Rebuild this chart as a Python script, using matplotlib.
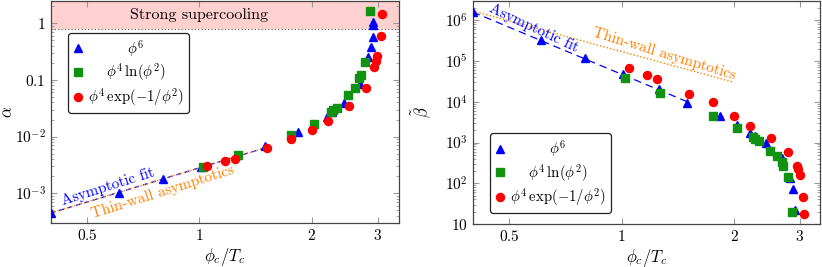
import numpy as np
import matplotlib
matplotlib.use("Agg")
import matplotlib.pyplot as plt
from matplotlib.ticker import FixedLocator, FixedFormatter, LogLocator, NullLocator, NullFormatter

plt.rcParams['font.family'] = ['cmr10', 'DejaVu Serif']
plt.rcParams['mathtext.fontset'] = 'cm'
plt.rcParams['axes.formatter.use_mathtext'] = True
plt.rcParams['axes.unicode_minus'] = False

# ---------------- data ----------------
phi6_x = [0.40, 0.61, 0.80, 1.01, 1.26, 1.50, 1.83, 2.03, 2.20, 2.27, 2.43, 2.69, 2.83, 2.88, 2.905, 2.91, 2.915]
phi6_alpha = [4.5e-4, 1.03e-3, 1.77e-3, 2.86e-3, 4.7e-3, 6.9e-3, 0.0119, 0.0165, 0.022, 0.027, 0.039, 0.086, 0.249, 0.375, 0.56, 0.91, 1.07]
phi6_beta = [1.61e6, 3.35e5, 1.19e5, 4.87e4, 2.04e4, 9.2e3, 4.5e3, 2.7e3, 1.74e3, 1.45e3, 990, 423, 131, 71.6, 21.7, np.nan, np.nan]

log_x = [1.02, 1.265, 1.76, 2.03, 2.245, 2.28, 2.33, 2.50, 2.60, 2.68, 2.71, 2.78, 2.855]
log_alpha = [2.86e-3, 4.72e-3, 0.0107, 0.0168, 0.027, 0.0289, 0.0318, 0.0535, 0.072, 0.106, 0.121, 0.209, 1.65]
log_beta = [3.8e4, 1.69e4, 4.4e3, 2.24e3, 1.34e3, 1.2e3, 1.07e3, 630, 473, 324, 268, 144, 19.8]

exp_x = [1.05, 1.17, 1.245, 1.515, 1.76, 2.00, 2.21, 2.515, 2.785, 2.94, 2.965, 2.995, 3.055, 3.075]
exp_alpha = [2.98e-3, 3.66e-3, 4.0e-3, 6.3e-3, 9.1e-3, 0.0133, 0.0192, 0.034, 0.073, 0.17, 0.215, 0.263, 0.595, 1.44]
exp_beta = [6.7e4, 4.6e4, 3.6e4, 1.54e4, 9.8e3, 4.36e3, 2550, 1270, 593, 270, 222, 159, 46, 18]

# asymptotic lines (end points)
fit_alpha_x = [0.40, 1.52]
fit_alpha_y = [4.5e-4, 6.5e-3]
thin_alpha_x = [0.40, 1.52]
thin_alpha_y = [4.5e-4, 6.5e-3]
fit_beta_x = [0.40, 1.50]
fit_beta_y = [1.6e6, 1.0e4]
thin_beta_x = [0.40, 2.00]
thin_beta_y = [1.7e6, 3.0e4]

strong_threshold = 0.8

x_ticks = [0.5, 1, 2, 3]
x_ticklabels = ['$0.5$', '$1$', '$2$', '$3$']
alpha_ticks = [1e-3, 1e-2, 0.1, 1]
alpha_ticklabels = ['$10^{-3}$', '$10^{-2}$', '$0.1$', '$1$']
beta_ticks = [10, 1e2, 1e3, 1e4, 1e5, 1e6]
beta_ticklabels = ['$10$', '$10^{2}$', '$10^{3}$', '$10^{4}$', '$10^{5}$', '$10^{6}$']

labels = [r'$\phi^6$', r'$\phi^4\,\ln(\phi^2)$', r'$\phi^4\,\exp(-1/\phi^2)$']

BLUE = '#0000ff'
GREEN = '#119211'
RED = '#ff0000'
ORANGE = '#ff8000'
PINK = '#ffd0d0'

MS_T, MS_S, MS_C = 5.8, 5.2, 5.8

fig = plt.figure(figsize=(8.22, 2.67), dpi=100)
axA = fig.add_axes([50.7/822, 44/267, 348.3/822, 222/267])
axB = fig.add_axes([472.7/822, 43/267, 347.6/822, 223/267])

FS = 11


def style(ax, yt, ytl):
    ax.set_xscale('log')
    ax.set_yscale('log')
    ax.xaxis.set_major_locator(FixedLocator(x_ticks))
    ax.xaxis.set_major_formatter(FixedFormatter(x_ticklabels))
    ax.xaxis.set_minor_locator(NullLocator())
    ax.yaxis.set_major_locator(FixedLocator(yt))
    ax.yaxis.set_major_formatter(FixedFormatter(ytl))
    ax.yaxis.set_minor_locator(LogLocator(base=10, subs=np.arange(2, 10), numticks=20))
    ax.yaxis.set_minor_formatter(NullFormatter())
    ax.tick_params(which='both', direction='in', top=True, right=True, labelsize=FS,
                   color='#999999')
    ax.tick_params(which='major', length=4, width=0.8)
    ax.tick_params(which='minor', length=2.2, width=0.6)
    for s in ax.spines.values():
        s.set_color('#444444')
        s.set_linewidth(0.9)
    ax.set_xlabel(r'$\phi_c/T_c$', fontsize=FS+1, labelpad=2)


def add_legend(ax, loc):
    h1, = ax.plot([], [], '^', color=BLUE, ms=MS_T, ls='none')
    h2, = ax.plot([], [], 's', color=GREEN, ms=MS_S, ls='none')
    h3, = ax.plot([], [], 'o', color=RED, ms=MS_C, ls='none')
    leg = ax.legend([h1, h2, h3], labels, loc='upper left', bbox_to_anchor=loc,
                    fontsize=10.6, frameon=True, fancybox=True, framealpha=1,
                    edgecolor='#222222', handlelength=0.7, handletextpad=0.3,
                    labelspacing=0.18, borderpad=0.35, borderaxespad=0)
    leg.get_frame().set_linewidth(0.9)
    return leg


# ---------------- left panel ----------------
style(axA, alpha_ticks, alpha_ticklabels)
axA.set_xlim(0.4, 3.42)
axA.set_ylim(3.0e-4, 2.46)
axA.axhspan(strong_threshold, 10, color=PINK, zorder=0, lw=0)
axA.axhline(strong_threshold, color='#555555', ls=(0, (1, 2)), lw=0.8, zorder=1)
axA.text(1.0, 1.42, 'Strong supercooling', ha='center', va='center', fontsize=FS+0.5)
axA.plot(fit_alpha_x, fit_alpha_y, color=BLUE, ls=(0, (4, 3)), lw=0.9, zorder=2)
axA.plot(thin_alpha_x, thin_alpha_y, color=ORANGE, ls=(0, (1, 1.5)), lw=1.0, zorder=2)
axA.plot(phi6_x, phi6_alpha, '^', color=BLUE, ms=MS_T, ls='none', zorder=3)
axA.plot(log_x, log_alpha, 's', color=GREEN, ms=MS_S, ls='none', zorder=4)
axA.plot(exp_x, exp_alpha, 'o', color=RED, ms=MS_C, ls='none', zorder=5)
axA.text(0.571, 1.3e-3, 'Asymptotic fit', color=BLUE, rotation=17.5, ha='center', va='center', fontsize=FS)
axA.text(0.80, 1.05e-3, 'Thin-wall asymptotics', color=ORANGE, rotation=17.5, ha='center', va='center', fontsize=FS)
axA.set_ylabel(r'$\alpha$', fontsize=FS+1, va='center')
axA.yaxis.set_label_coords(-0.123, 0.5)
legA = add_legend(axA, (0.05, 0.857))

# ---------------- right panel ----------------
style(axB, beta_ticks, beta_ticklabels)
axB.set_xlim(0.4, 3.40)
axB.set_ylim(10, 2.98e6)
axB.plot(fit_beta_x, fit_beta_y, color=BLUE, ls=(0, (6, 4)), lw=0.9, zorder=2)
axB.plot(thin_beta_x, thin_beta_y, color=ORANGE, ls=(0, (1, 1.5)), lw=1.0, zorder=2)
axB.plot(phi6_x, phi6_beta, '^', color=BLUE, ms=MS_T, ls='none', zorder=3)
axB.plot(log_x, log_beta, 's', color=GREEN, ms=MS_S, ls='none', zorder=4)
axB.plot(exp_x, exp_beta, 'o', color=RED, ms=MS_C, ls='none', zorder=5)
axB.text(0.584, 6.5e5, 'Asymptotic fit', color=BLUE, rotation=-25, ha='center', va='center', fontsize=FS)
axB.text(1.30, 1.5e5, 'Thin-wall asymptotics', color=ORANGE, rotation=-17, ha='center', va='center', fontsize=FS)
axB.set_ylabel(r'$\tilde{\beta}$', fontsize=FS+1, va='center')
axB.yaxis.set_label_coords(-0.147, 0.5)
legB = add_legend(axB, (0.05, 0.408))

# center legend labels in their column
fig.canvas.draw()
r = fig.canvas.get_renderer()
for leg in (legA, legB):
    texts = leg.get_texts()
    ws = [t.get_window_extent(r).width for t in texts]
    wm = max(ws)
    for t, w in zip(texts, ws):
        t.set_position(((wm - w) / 2.0, 0))

fig.savefig('out.png', dpi=100)
